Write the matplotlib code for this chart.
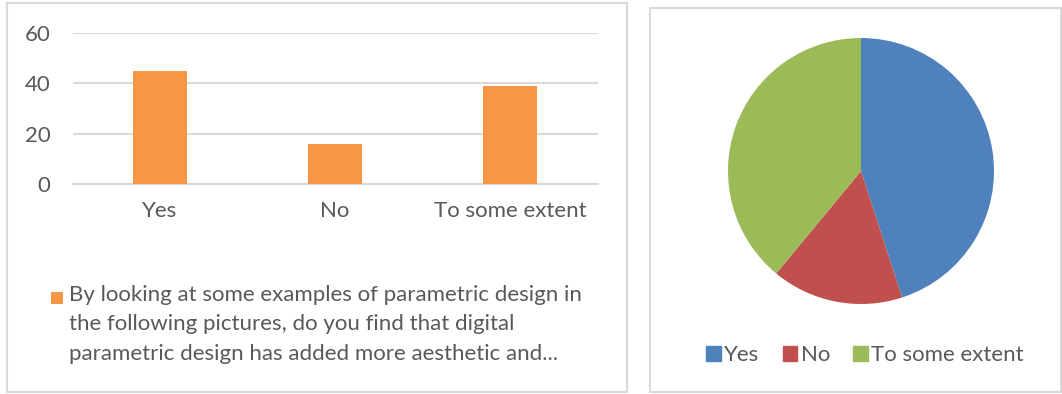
import matplotlib.pyplot as plt
from matplotlib.patches import Rectangle, Patch

# survey answers
categories = ["Yes", "No", "To some extent"]
counts = [45, 16, 39]
yticks = [0, 20, 40, 60]
question = ("By looking at some examples of parametric design in\n"
            "the following pictures, do you find that digital\n"
            "parametric design has added more aesthetic and...")

pie_colors = ["#4F81BD", "#C0504D", "#9BBB59"]
bar_color = "#F79646"
text_color = "#595959"
grid_color = "#D9D9D9"

plt.rcParams["font.family"] = ["Lato", "DejaVu Sans"]

W, H = 1062, 394
fig = plt.figure(figsize=(W / 100, H / 100), dpi=100)

def fx(px):
    return px / W

def fy(py):
    return 1 - py / H

# panel frames
fig.patches.append(Rectangle((fx(7), fy(392)), fx(620), 389 / H, transform=fig.transFigure,
                             fill=False, edgecolor=grid_color, lw=1.5))
fig.patches.append(Rectangle((fx(650), fy(392)), fx(411), 384 / H, transform=fig.transFigure,
                             fill=False, edgecolor=grid_color, lw=1.5))

# bar chart
ax = fig.add_axes([fx(72.5), fy(184), fx(525), 151 / H])
x = range(len(categories))
ax.bar(x, counts, width=0.31, color=bar_color, zorder=3)
ax.set_xlim(-0.5, len(categories) - 0.5)
ax.set_ylim(0, 60)
ax.set_yticks(yticks)
ax.set_xticks(list(x))
ax.set_xticklabels(categories)
ax.grid(axis="y", color=grid_color, lw=1.5, zorder=0)
for s in ["top", "right", "left"]:
    ax.spines[s].set_visible(False)
ax.spines["bottom"].set_color(grid_color)
ax.spines["bottom"].set_linewidth(1.5)
ax.tick_params(length=0, labelsize=16, colors=text_color)
ax.tick_params(axis="y", pad=16)
ax.tick_params(axis="x", pad=12)

# legend under the bars
fig.patches.append(Rectangle((fx(51), fy(304)), fx(12), 12 / H, transform=fig.transFigure,
                             facecolor=bar_color, edgecolor="none"))
fig.text(fx(69), fy(285), question, fontsize=16, color=text_color,
         va="top", ha="left", linespacing=1.58)

# pie chart
pax = fig.add_axes([fx(861 - 133), fy(171 + 133), fx(266), 266 / H])
pax.pie(counts, colors=pie_colors, startangle=90, counterclock=False, radius=1)
pax.set_xlim(-1, 1)
pax.set_ylim(-1, 1)
pax.set_aspect("auto")

handles = [Patch(color=c, label=l) for c, l in zip(pie_colors, categories)]
fig.legend(handles=handles, loc="center", bbox_to_anchor=(fx(865), fy(355)), ncol=3,
           frameon=False, fontsize=16, labelcolor=text_color, handlelength=0.65,
           handleheight=0.65, handletextpad=0.15, columnspacing=1.05)

fig.savefig("out.png", dpi=100)
